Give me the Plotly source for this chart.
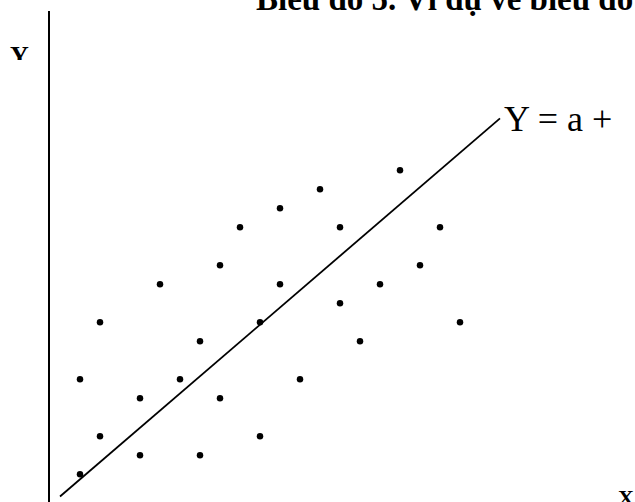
import plotly.graph_objects as go

# Scatter observations (X, Y)
x_values = [1, 1, 2, 2, 4, 4, 5, 6, 7, 7, 8, 8, 9, 10, 10, 11, 11, 12, 13, 14, 14, 15, 16, 17, 18, 19, 20]
y_values = [6, 1, 9, 3, 5, 2, 11, 6, 8, 2, 12, 5, 14, 9, 3, 15, 11, 6, 16, 14, 10, 8, 11, 17, 12, 14, 9]

# Fitted line Y = a + bX, drawn between its two end points
line_x = [0, 22]
line_y = [-0.17, 19.73]

title_text = "Biểu đồ 5. Ví dụ về biểu đồ"
equation_text = "Y = a +"
y_label = "Y"
x_label = "X"

W, H = 635, 502
serif = "Liberation Serif, Times New Roman, serif"

fig = go.Figure()

fig.add_trace(go.Scatter(
    x=x_values, y=y_values, mode="markers",
    marker=dict(color="black", size=6.5, line=dict(width=0)),
    xaxis="x", yaxis="y", showlegend=False, hoverinfo="skip",
))
fig.add_trace(go.Scatter(
    x=line_x, y=line_y, mode="lines",
    line=dict(color="black", width=1.8),
    xaxis="x", yaxis="y", showlegend=False, hoverinfo="skip",
))

# Labels placed on a page-sized overlay (pixel units)
fig.add_trace(go.Scatter(
    x=[256, 504, 618],
    y=[1.5, 121.5, 499],
    mode="text",
    text=[f"<b>{title_text}</b>", equation_text, f"<b>{x_label}</b>"],
    textposition="middle right",
    textfont=dict(family=serif, size=[33, 36, 22], color="black"),
    cliponaxis=False,
    xaxis="x2", yaxis="y2", showlegend=False, hoverinfo="skip",
))

# Y-axis caption sits in a small box that trims its lower part
fig.add_trace(go.Scatter(
    x=[19.5], y=[57.5], mode="text",
    text=[f"<b>{y_label}</b>"],
    textposition="middle center",
    textfont=dict(family=serif, size=26, color="black"),
    cliponaxis=True,
    xaxis="x3", yaxis="y3", showlegend=False, hoverinfo="skip",
))

hidden = dict(visible=False, showgrid=False, zeroline=False, fixedrange=True)

fig.update_layout(
    width=W, height=H,
    margin=dict(l=0, r=0, t=0, b=0),
    paper_bgcolor="white", plot_bgcolor="white",
    xaxis=dict(range=[-3, 28.75], domain=[0, 1], **hidden),
    yaxis=dict(range=[-0.458, 25.963], domain=[0, 1], **hidden),
    xaxis2=dict(range=[0, W], domain=[0, 1], anchor="y2", overlaying="x", **hidden),
    yaxis2=dict(range=[H, 0], domain=[0, 1], anchor="x2", overlaying="y", **hidden),
    xaxis3=dict(range=[0, 63.5], domain=[0, 0.1], anchor="y3", **hidden),
    yaxis3=dict(range=[60, 0], domain=[1 - 60 / H, 1], anchor="x3", **hidden),
    shapes=[
        # vertical axis
        dict(type="line", xref="paper", yref="paper",
             x0=49 / W, x1=49 / W, y0=0, y1=1 - 11 / H,
             line=dict(color="black", width=2)),
    ],
)

fig.write_html("out.html")
